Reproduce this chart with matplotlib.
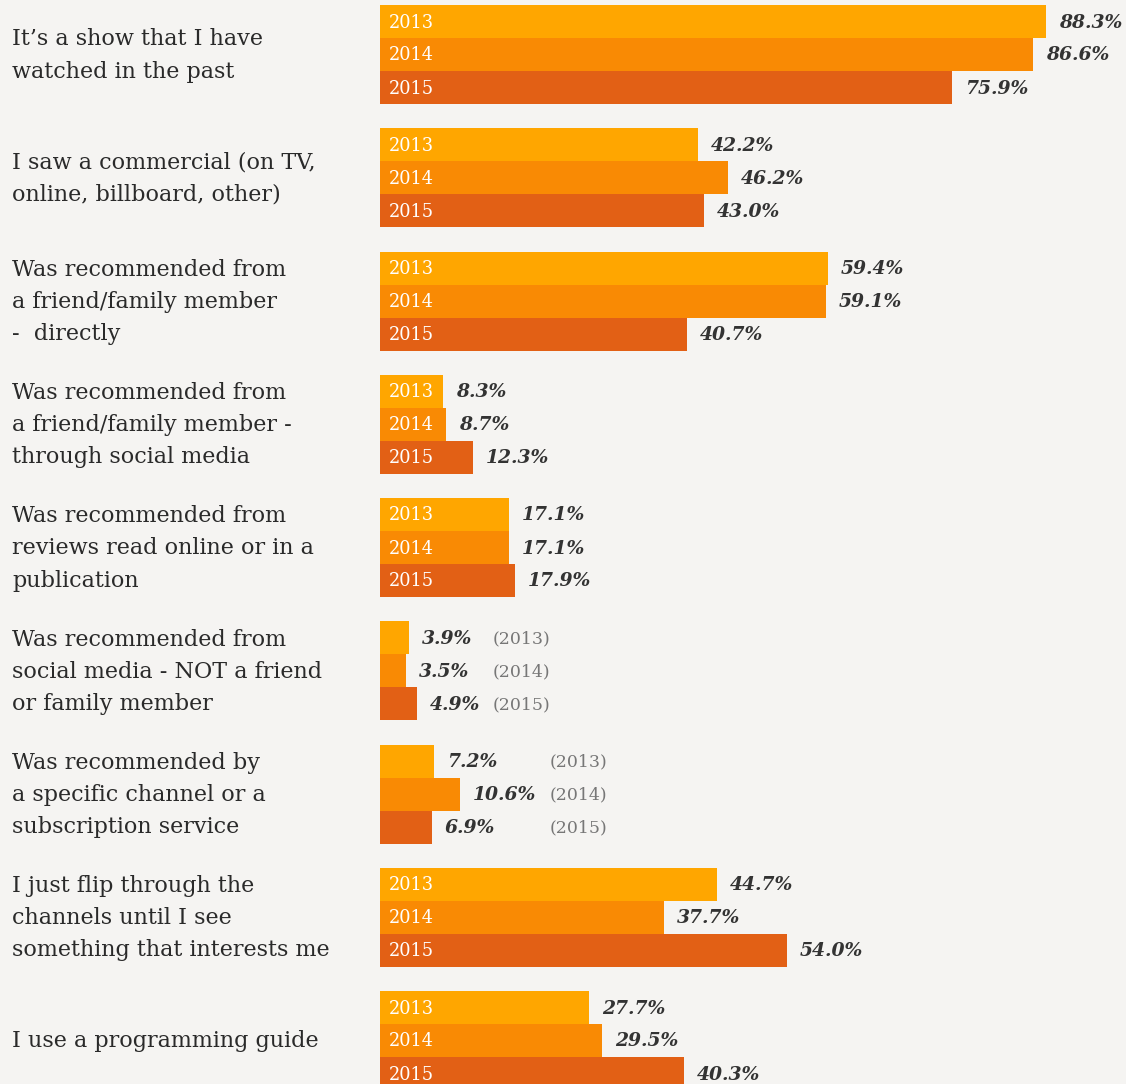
import numpy as np
import matplotlib
matplotlib.use("Agg")
import matplotlib.pyplot as plt

# --- data -------------------------------------------------------------
categories = [
    "It\u2019s a show that I have\nwatched in the past",
    "I saw a commercial (on TV,\nonline, billboard, other)",
    "Was recommended from\na friend/family member\n-  directly",
    "Was recommended from\na friend/family member -\nthrough social media",
    "Was recommended from\nreviews read online or in a\npublication",
    "Was recommended from\nsocial media - NOT a friend\nor family member",
    "Was recommended by\na specific channel or a\nsubscription service",
    "I just flip through the\nchannels until I see\nsomething that interests me",
    "I use a programming guide",
]
years = ["2013", "2014", "2015"]
v2013 = [88.3, 42.2, 59.4, 8.3, 17.1, 3.9, 7.2, 44.7, 27.7]
v2014 = [86.6, 46.2, 59.1, 8.7, 17.1, 3.5, 10.6, 37.7, 29.5]
v2015 = [75.9, 43.0, 40.7, 12.3, 17.9, 4.9, 6.9, 54.0, 40.3]
series = [v2013, v2014, v2015]

colors = ["#FFA600", "#F98A04", "#E26015"]
bg = "#F5F4F2"

# groups whose year tags sit outside the bars, with x position (in %)
outside_year_x = {5: 15.0, 6: 22.5}

# --- layout (pixel units) ----------------------------------------------
W, H = 1126, 1084
x0 = 380
px_per_pct = 7.54
group_top0 = 5
group_step = 123.25
bar_h = 33

fig = plt.figure(figsize=(W / 100, H / 100), dpi=100, facecolor=bg)
ax = fig.add_axes([x0 / W, 0, 1 - x0 / W, 1])
ax.set_facecolor(bg)
ax.set_xlim(0, (W - x0) / px_per_pct)
ax.set_ylim(H, 0)
ax.axis("off")

serif = ["DejaVu Serif"]
pad = 13 / px_per_pct

for i, cat in enumerate(categories):
    top = group_top0 + i * group_step
    for j, yr in enumerate(years):
        val = series[j][i]
        yc = top + bar_h / 2 + j * bar_h
        ax.barh(yc, val, height=bar_h, color=colors[j], edgecolor="none")
        ax.text(val + pad, yc + 1, f"{val:.1f}%", ha="left", va="center",
                fontsize=13.5, fontweight="bold", fontstyle="italic",
                color="#333333", family=serif)
        if i in outside_year_x:
            ax.text(outside_year_x[i], yc + 1, f"({yr})", ha="left", va="center",
                    fontsize=12.5, color="#777777", family=serif)
        else:
            ax.text(9 / px_per_pct, yc + 1, yr, ha="left", va="center",
                    fontsize=12.8, color="white", family=serif)
    yc_group = top + 1.5 * bar_h
    fig.text(12 / W, 1 - (yc_group + 1) / H, cat, ha="left", va="center",
             fontsize=16, color="#2a2a2a", family=serif, linespacing=1.6)

fig.savefig("out.png", dpi=100, facecolor=bg)
